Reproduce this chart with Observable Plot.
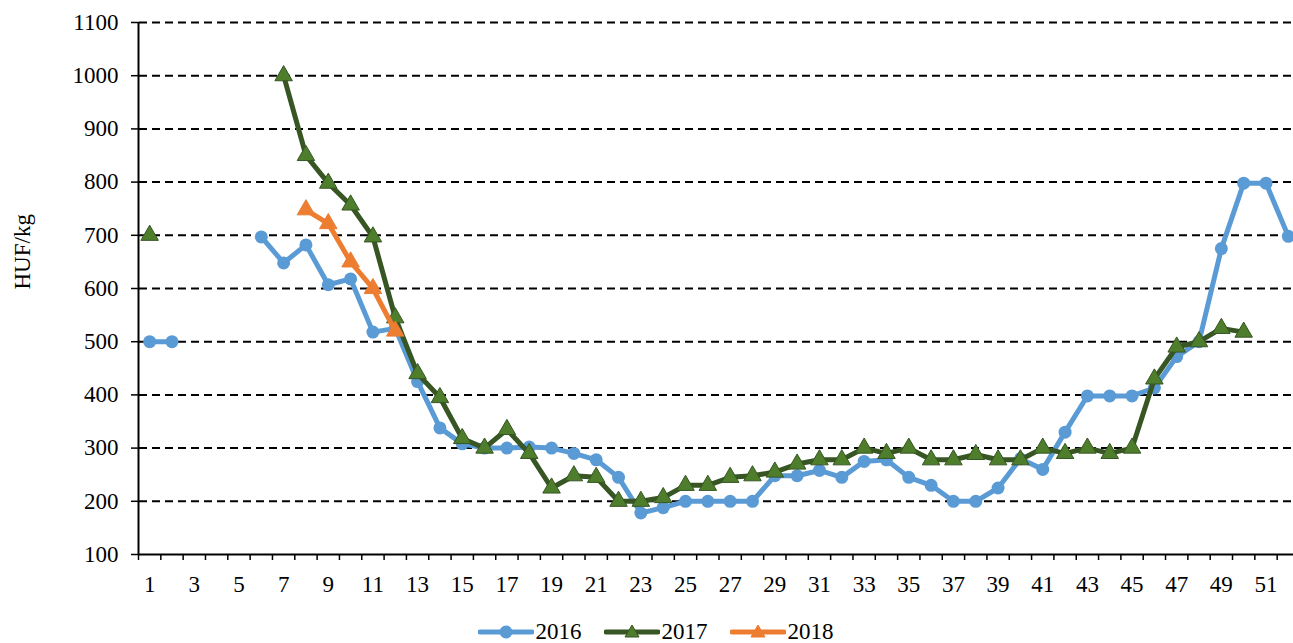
<!DOCTYPE html>
<html>
<head>
<meta charset="utf-8">
<script src="https://cdn.jsdelivr.net/npm/d3@7"></script>
<script src="https://cdn.jsdelivr.net/npm/@observablehq/plot@0.6"></script>
<style>
  html, body { margin: 0; padding: 0; background: #fff; overflow: hidden; }
  #chart svg { display: block; }
  #legend { box-sizing: border-box; display: flex; justify-content: center; align-items: center; gap: 22px; height: 31px; padding-top: 8px;
            font-family: "Liberation Serif", "Times New Roman", serif; font-size: 23px; line-height: 1; color: #000; padding-left: 18px; }
  .item { display: flex; align-items: center; gap: 2px; }
</style>
</head>
<body>
<div id="chart"></div>
<div id="legend"></div>
<script>
const weeks = d3.range(1, 53);
const series = ["2016", "2017", "2018"];
const v2016 = [500, 500, null, null, null, 697, 648, 682, 607, 618, 518, 525, 425, 338, 308, 300, 300, 302, 300, 290,
  278, 245, 178, 188, 200, 200, 200, 200, 248, 248, 258, 245, 275, 278, 245, 230, 200, 200, 225, 280,
  260, 330, 398, 398, 398, 413, 472, 500, 675, 798, 798, 698];
const v2017 = [700, null, null, null, null, null, 1000, 850, 798, 757, 697, 545, 440, 395, 318, 300, 335, 290, 225, 248,
  245, 200, 200, 207, 230, 230, 245, 248, 255, 270, 278, 278, 300, 290, 300, 278, 278, 288, 278, 278,
  300, 290, 300, 290, 300, 430, 490, 500, 525, 518, null, null];
const v2018 = [null, null, null, null, null, null, null, 748, 722, 650, 600, 520, null, null, null, null, null, null, null, null,
  null, null, null, null, null, null, null, null, null, null, null, null, null, null, null, null, null, null, null, null,
  null, null, null, null, null, null, null, null, null, null, null, null];
const yTicks = d3.range(100, 1101, 100);
const xLabels = d3.range(1, 53, 2);
const colors = {"2016": "#5B9BD5", "2017": "#375623", "2018": "#ED7D31"};
const markerFill = {"2016": "#5B9BD5", "2017": "#4E7D2C", "2018": "#ED7D31"};

const rows = [];
[v2016, v2017, v2018].forEach((arr, i) => arr.forEach((v, j) => rows.push({series: series[i], week: weeks[j], value: v})));
const data = s => rows.filter(d => d.series === s);

const font = '"Liberation Serif", "Times New Roman", serif';
const plot = Plot.plot({
  width: 1293, height: 612,
  marginTop: 22, marginBottom: 58, marginLeft: 139, marginRight: 0,
  style: {fontFamily: font, fontSize: "23px", color: "#000", background: "#fff", overflow: "hidden"},
  x: {type: "linear", domain: [0.5, 52.5], range: [138, 1299]},
  y: {domain: [100, 1100]},
  marks: [
    Plot.ruleY(yTicks.filter(t => t > 100), {stroke: "#000", strokeWidth: 2, strokeDasharray: "8,5"}),
    Plot.axisY({ticks: yTicks, tickSize: 8, tickPadding: 13, tickFormat: d => String(d), label: null, stroke: "#000", strokeWidth: 1.5, fontSize: 23}),
    Plot.axisX({ticks: d3.range(0.5, 53, 1), tickSize: 6, tickFormat: () => "", label: null, stroke: "#000", strokeWidth: 1.5}),
    Plot.axisX({ticks: xLabels, tickSize: 0, tickPadding: 21, tickFormat: d => String(d), label: null, fontSize: 23}),
    Plot.ruleX([0.5], {stroke: "#000", strokeWidth: 2}),
    Plot.ruleY([100], {stroke: "#000", strokeWidth: 2}),
    Plot.text(["HUF/kg"], {frameAnchor: "left", dx: -117, dy: 1, rotate: -90, text: d => d, fontSize: 23}),
    Plot.line(data("2016"), {x: "week", y: "value", stroke: colors["2016"], strokeWidth: 5, defined: d => d.value != null}),
    Plot.dot(data("2016").filter(d => d.value != null), {x: "week", y: "value", r: 6.5, fill: markerFill["2016"], stroke: "none"}),
    Plot.line(data("2017"), {x: "week", y: "value", stroke: colors["2017"], strokeWidth: 5, defined: d => d.value != null}),
    Plot.dot(data("2017").filter(d => d.value != null), {x: "week", y: "value", symbol: "triangle", r: 6.5, fill: markerFill["2017"], stroke: colors["2017"], strokeWidth: 1}),
    Plot.line(data("2018"), {x: "week", y: "value", stroke: colors["2018"], strokeWidth: 5, defined: d => d.value != null}),
    Plot.dot(data("2018").filter(d => d.value != null), {x: "week", y: "value", symbol: "triangle", r: 6.5, fill: markerFill["2018"], stroke: colors["2018"], strokeWidth: 1})
  ]
});
document.getElementById("chart").appendChild(plot);

const legend = document.getElementById("legend");
series.forEach(s => {
  const item = document.createElement("div");
  item.className = "item";
  const marker = s === "2016"
    ? `<circle cx="28" cy="10" r="6.5" fill="${markerFill[s]}"/>`
    : `<path d="M28,3 L35,15 L21,15 Z" fill="${markerFill[s]}" stroke="${colors[s]}" stroke-width="1"/>`;
  item.innerHTML = `<svg width="56" height="20"><line x1="2" y1="10" x2="54" y2="10" stroke="${colors[s]}" stroke-width="5" stroke-linecap="round"/>${marker}</svg><span>${s}</span>`;
  legend.appendChild(item);
});
</script>
</body>
</html>
